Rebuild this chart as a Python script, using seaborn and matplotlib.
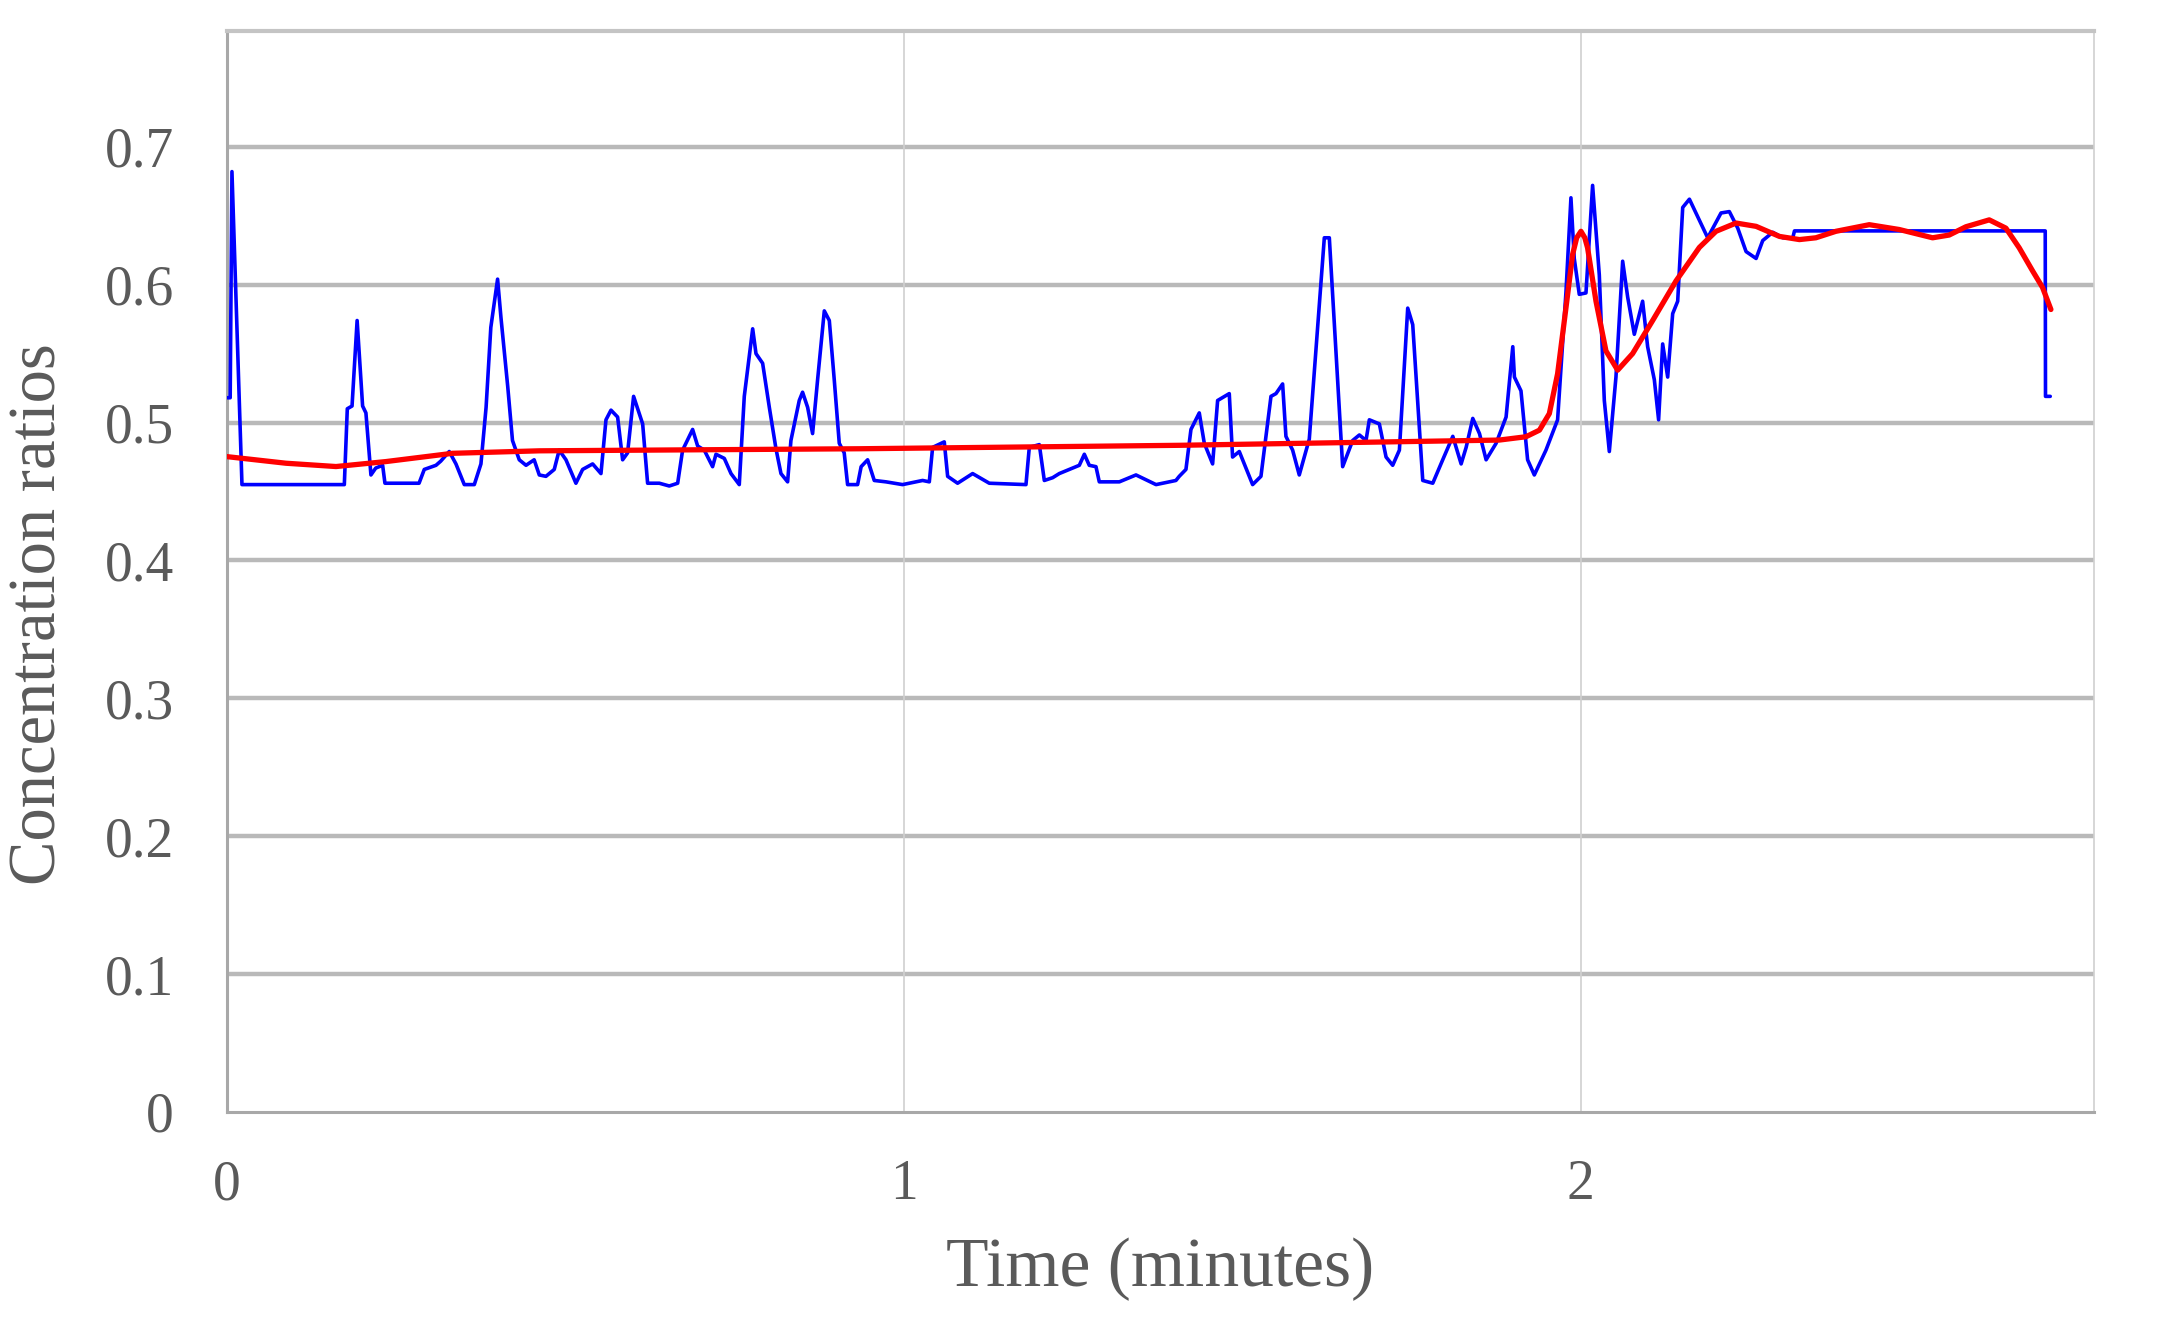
import pandas as pd
import numpy as np
import matplotlib
matplotlib.use("Agg")
import matplotlib.pyplot as plt
import seaborn as sns

blue_time = [0.000, 0.005, 0.0076, 0.0224, 0.1736, 0.178, 0.185, 0.1925, 0.2006, 0.2055,
             0.2129, 0.220, 0.2302, 0.2336, 0.284, 0.2917, 0.309, 0.316, 0.3286, 0.3385,
             0.3508, 0.3656, 0.3754, 0.383, 0.390, 0.400, 0.405, 0.415, 0.422, 0.432,
             0.442, 0.454, 0.4616, 0.4714, 0.4837, 0.491, 0.501, 0.5157, 0.5256, 0.5404,
             0.5527, 0.5601, 0.5675, 0.5773, 0.5847, 0.592, 0.6009, 0.6143, 0.6216, 0.6389,
             0.6536, 0.666, 0.6733, 0.6881, 0.6955, 0.7053, 0.7176, 0.7226, 0.7349, 0.7448,
             0.757, 0.7644, 0.7768, 0.7817, 0.7915, 0.8014, 0.8112, 0.8186, 0.8284, 0.8333,
             0.8456, 0.8505, 0.858, 0.8653, 0.8727, 0.8826, 0.89, 0.8973, 0.9047, 0.912,
             0.917, 0.9318, 0.937, 0.9466, 0.9564, 0.9737, 0.9982, 1.0278, 1.0377, 1.0426,
             1.0598, 1.0648, 1.0795, 1.1017, 1.1263, 1.1805, 1.1854, 1.2002, 1.2076, 1.2199,
             1.2297, 1.2445, 1.2593, 1.2667, 1.274, 1.2839, 1.2888, 1.3184, 1.343, 1.3726,
             1.402, 1.4069, 1.4168, 1.4242, 1.4365, 1.4439, 1.4562, 1.4636, 1.4808, 1.4857,
             1.4956, 1.5153, 1.5276, 1.5424, 1.5498, 1.5596, 1.5645, 1.5744, 1.5842, 1.599,
             1.6212, 1.6286, 1.6483, 1.6631, 1.673, 1.6828, 1.6877, 1.7025, 1.7124, 1.7222,
             1.7321, 1.7444, 1.7518, 1.7666, 1.7814, 1.7961, 1.811, 1.8233, 1.8307, 1.8405,
             1.8504, 1.8602, 1.875, 1.8897, 1.8996, 1.902, 1.9117, 1.9215, 1.9314, 1.9486,
             1.9658, 1.9782, 1.9855, 1.9904, 1.9978, 2.0077, 2.0175, 2.0274, 2.0348, 2.0422,
             2.052, 2.0619, 2.0693, 2.0791, 2.0914, 2.0988, 2.1087, 2.115, 2.121, 2.1284,
             2.1358, 2.1432, 2.1506, 2.1605, 2.1875, 2.2072, 2.2195, 2.2319, 2.2442, 2.259,
             2.2688, 2.2836, 2.2984, 2.3132, 2.3157, 2.6861, 2.6865, 2.6935]
blue_ratio = [0.518, 0.518, 0.682, 0.455, 0.455, 0.510, 0.512, 0.574, 0.512, 0.507,
              0.462, 0.467, 0.469, 0.456, 0.456, 0.466, 0.469, 0.472, 0.479, 0.470,
              0.455, 0.455, 0.470, 0.511, 0.569, 0.604, 0.576, 0.526, 0.487, 0.473,
              0.469, 0.473, 0.462, 0.461, 0.466, 0.480, 0.473, 0.456, 0.466, 0.470,
              0.463, 0.502, 0.509, 0.504, 0.473, 0.478, 0.519, 0.499, 0.456, 0.456,
              0.454, 0.456, 0.480, 0.495, 0.483, 0.480, 0.468, 0.477, 0.474, 0.463,
              0.455, 0.519, 0.568, 0.550, 0.543, 0.511, 0.481, 0.463, 0.457, 0.487,
              0.516, 0.522, 0.511, 0.492, 0.531, 0.581, 0.574, 0.531, 0.485, 0.478,
              0.455, 0.455, 0.468, 0.473, 0.458, 0.457, 0.455, 0.458, 0.457, 0.482,
              0.486, 0.461, 0.456, 0.463, 0.456, 0.455, 0.482, 0.484, 0.458, 0.460,
              0.463, 0.466, 0.469, 0.477, 0.469, 0.468, 0.457, 0.457, 0.462, 0.455,
              0.458, 0.461, 0.466, 0.495, 0.507, 0.485, 0.470, 0.516, 0.521, 0.475,
              0.479, 0.455, 0.461, 0.519, 0.521, 0.528, 0.490, 0.480, 0.462, 0.488,
              0.634, 0.634, 0.468, 0.487, 0.491, 0.487, 0.502, 0.499, 0.475, 0.469,
              0.480, 0.583, 0.571, 0.458, 0.456, 0.473, 0.490, 0.470, 0.482, 0.503,
              0.492, 0.473, 0.485, 0.504, 0.555, 0.533, 0.523, 0.473, 0.462, 0.480,
              0.502, 0.595, 0.663, 0.619, 0.593, 0.594, 0.672, 0.607, 0.516, 0.479,
              0.533, 0.617, 0.591, 0.564, 0.588, 0.555, 0.531, 0.502, 0.557, 0.533,
              0.579, 0.588, 0.656, 0.662, 0.634, 0.652, 0.653, 0.641, 0.624, 0.619,
              0.632, 0.638, 0.634, 0.634, 0.639, 0.639, 0.519, 0.519]

# Fitted curve (red)
red_time = [0.000, 0.0874, 0.1613, 0.235, 0.3336, 0.4616, 0.9343, 1.407, 1.8796, 1.919,
            1.939, 1.9536, 1.9658, 1.9782, 1.988, 1.994, 2.0003, 2.006, 2.0101, 2.0225,
            2.0372, 2.0545, 2.0766, 2.1062, 2.1407, 2.1752, 2.1998, 2.2294, 2.259, 2.2935,
            2.323, 2.3473, 2.3769, 2.4262, 2.4705, 2.5197, 2.5443, 2.5689, 2.6034, 2.628,
            2.6477, 2.6674, 2.6821, 2.6945]
red_ratio = [0.4753, 0.4705, 0.4681, 0.4717, 0.4777, 0.4795, 0.481, 0.4835, 0.4873, 0.4897,
             0.4945, 0.5065, 0.5354, 0.5834, 0.622, 0.634, 0.6387, 0.634, 0.6267, 0.588,
             0.552, 0.538, 0.550, 0.574, 0.6027, 0.627, 0.6387, 0.6447, 0.6423, 0.635,
             0.6327, 0.634, 0.6387, 0.6435, 0.640, 0.634, 0.636, 0.642, 0.647, 0.641,
             0.6267, 0.610, 0.598, 0.582]

y_ticks = [0, 0.1, 0.2, 0.3, 0.4, 0.5, 0.6, 0.7]
x_ticks = [0, 1, 2]

sns.set_style("white")
plt.rcParams['font.family'] = ['Liberation Serif', 'DejaVu Serif']
text_color = '#5a5a5a'

blue_df = pd.DataFrame({'time': blue_time, 'ratio': blue_ratio})
red_df = pd.DataFrame({'time': red_time, 'ratio': red_ratio})

fig, ax = plt.subplots(figsize=(21.6, 13.29), dpi=100)
fig.subplots_adjust(left=0.105, right=0.9694, bottom=0.1633, top=0.9767)

sns.lineplot(data=blue_df, x='time', y='ratio', ax=ax, color='#0000ff',
             linewidth=2.6, estimator=None, sort=False, zorder=3)
sns.lineplot(data=red_df, x='time', y='ratio', ax=ax, color='#ff0000',
             linewidth=3.8, estimator=None, sort=False, zorder=4)

ax.set_xlim(0, 2.758)
ax.set_ylim(0, 0.784)
ax.set_xticks(x_ticks)
ax.set_xticklabels([str(v) for v in x_ticks])
ax.set_yticks(y_ticks)
ax.set_yticklabels(['0'] + [f'{v:.1f}' for v in y_ticks[1:]])

# grid: heavy horizontal lines, thin vertical ones
for v in y_ticks[1:]:
    ax.axhline(v, color='#b9b9b9', linewidth=3.2, zorder=1)
for v in x_ticks[1:]:
    ax.axvline(v, color='#cfcfcf', linewidth=1.2, zorder=1)

ax.spines['left'].set_color('#a8a8a8')
ax.spines['left'].set_linewidth(2.2)
ax.spines['bottom'].set_color('#a8a8a8')
ax.spines['bottom'].set_linewidth(2.2)
ax.spines['top'].set_color('#c4c4c4')
ax.spines['top'].set_linewidth(3.0)
ax.spines['right'].set_color('#d0d0d0')
ax.spines['right'].set_linewidth(1.2)

ax.tick_params(axis='both', length=0, labelsize=40, labelcolor=text_color)
ax.tick_params(axis='y', pad=38)
ax.tick_params(axis='x', pad=34)

ax.set_xlabel('Time (minutes)', fontsize=50, color=text_color)
ax.set_ylabel('Concentration ratios', fontsize=48, color=text_color)
ax.xaxis.set_label_coords(0.5, -0.116)
ax.yaxis.set_label_coords(-0.084, 0.461)

fig.savefig('out.png', dpi=100, facecolor='white')
